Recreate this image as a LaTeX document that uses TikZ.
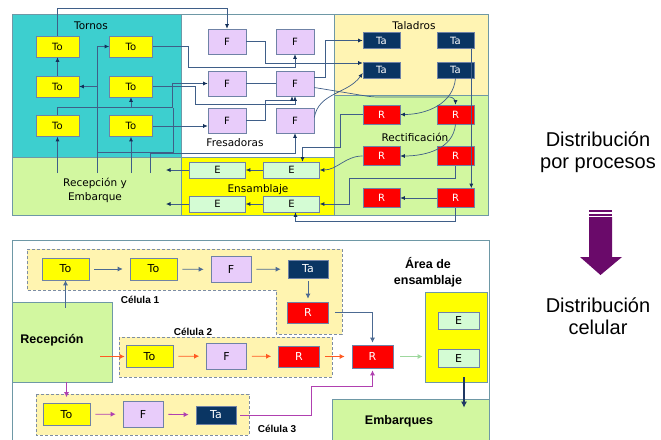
\documentclass[tikz,border=0pt]{standalone}
\usepackage{fontspec}
\setmainfont{DejaVu Sans}
\newfontfamily\arialfont{Liberation Sans}
\usetikzlibrary{arrows.meta,calc}
\definecolor{tornoc}{HTML}{3DCFCF}
\definecolor{recc}{HTML}{D2F7A0}
\definecolor{taladc}{HTML}{FFF4B3}
\definecolor{ensc}{HTML}{FFFF00}
\definecolor{toc}{HTML}{FFFF00}
\definecolor{fc}{HTML}{E8CCFA}
\definecolor{ec}{HTML}{D4FCD4}
\definecolor{tac}{HTML}{0A3563}
\definecolor{rc}{HTML}{FE0000}
\definecolor{zonec}{HTML}{6E98A6}
\definecolor{boxc}{HTML}{6F82A6}
\definecolor{wirec}{HTML}{3F5E88}
\definecolor{headc}{HTML}{13305A}
\definecolor{cellc}{HTML}{FFF4B0}
\definecolor{dashc}{HTML}{7D8DA3}
\definecolor{celaa}{HTML}{4C6A92}
\definecolor{celbb}{HTML}{FF5A22}
\definecolor{celcc}{HTML}{B040B0}
\definecolor{greenarr}{HTML}{9ED89E}
\definecolor{purpc}{HTML}{6A0A6A}
\definecolor{shipc}{HTML}{1F3864}
\tikzset{
  zone/.style={draw=zonec, line width=0.6pt},
  mach/.style={draw=boxc, line width=0.6pt, inner sep=0pt, font=\fontsize{10}{12}\selectfont},
  tobox/.style={mach, fill=toc, minimum width=43pt, minimum height=21pt},
  fbox/.style={mach, fill=fc, minimum width=38pt, minimum height=25pt},
  ebox/.style={mach, fill=ec, minimum width=56pt, minimum height=16pt},
  tabox/.style={mach, fill=tac, text=white, minimum width=37pt, minimum height=16pt},
  rbox/.style={mach, fill=rc, text=white, minimum width=37pt, minimum height=19pt},
  celto/.style={tobox, font=\fontsize{11}{13}\selectfont, minimum width=47pt, minimum height=22pt},
  celf/.style={fbox, font=\fontsize{11}{13}\selectfont, minimum width=40pt, minimum height=26pt},
  celta/.style={tabox, font=\fontsize{11}{13}\selectfont, minimum width=40pt, minimum height=18pt},
  celr/.style={rbox, font=\fontsize{11}{13}\selectfont, minimum width=41pt, minimum height=21pt},
  areabox/.style={ebox, font=\fontsize{11}{13}\selectfont, minimum width=41pt, minimum height=17pt},
  zonelabel/.style={font=\fontsize{10.5}{14}\selectfont, align=center},
  wire/.style={draw=wirec, line width=0.7pt, -{Latex[length=4.5pt,width=4pt,color=headc]}},
  bare/.style={draw=wirec, line width=0.7pt},
  cell/.style={fill=cellc, draw=dashc, line width=0.8pt, dash pattern=on 3pt off 2pt},
  boldlabel/.style={font=\arialfont\bfseries\fontsize{12.5}{16}\selectfont, align=center},
  celllabel/.style={font=\arialfont\bfseries\fontsize{10}{12}\selectfont},
  flow/.style={line width=0.8pt, shorten <=5pt, shorten >=7pt, -{Latex[length=5pt,width=5pt]}},
  bigtxt/.style={font=\arialfont\fontsize{20}{22}\selectfont, align=center, inner sep=0pt},
}
\begin{document}
\begin{tikzpicture}[x=1pt,y=-1pt]
\useasboundingbox (0,0) rectangle (661,439);
% distribucion por procesos: zonas
\fill[tornoc] (12,14) rectangle (181,157);
\fill[recc] (12,157) rectangle (181,215);
\fill[white] (181,14) rectangle (334,157);
\fill[ensc] (181,157) rectangle (334,215);
\fill[taladc] (334,14) rectangle (488,95);
\fill[recc] (334,95) rectangle (488,215);
\draw[zone] (12,14) rectangle (181,157);
\draw[zone] (12,157) rectangle (181,215);
\draw[zone] (181,14) rectangle (334,157);
\draw[zone] (181,157) rectangle (334,215);
\draw[zone] (334,14) rectangle (488,95);
\draw[zone] (334,95) rectangle (488,215);
\node[zonelabel] (tornos) at (91,26) {Tornos};
\node[zonelabel] (recemb) at (95,190) {Recepción y\\Embarque};
\node[zonelabel] (fresa) at (235,143) {Fresadoras};
\node[zonelabel] (ensam) at (258,190) {Ensamblaje};
\node[zonelabel] (talad) at (414,26) {Taladros};
\node[zonelabel] (rectif) at (415,137) {Rectificación};
% maquinas
\node[tobox] (To11) at (57.5,46.5) {To};
\node[tobox] (To12) at (131,46.5) {To};
\node[tobox] (To21) at (57.5,86.5) {To};
\node[tobox] (To22) at (131,86.5) {To};
\node[tobox] (To31) at (57.5,126) {To};
\node[tobox] (To32) at (131,126) {To};
\node[fbox] (F11) at (227,41.5) {F};
\node[fbox] (F12) at (295,41.5) {F};
\node[fbox] (F21) at (227,83.5) {F};
\node[fbox] (F22) at (295,83.5) {F};
\node[fbox] (F31) at (227,120.5) {F};
\node[fbox] (F32) at (295,120.5) {F};
\node[ebox] (E11) at (217.5,170) {E};
\node[ebox] (E12) at (291.5,170) {E};
\node[ebox] (E21) at (217.5,204) {E};
\node[ebox] (E22) at (291.5,204) {E};
\node[tabox] (Ta11) at (381.5,40.5) {Ta};
\node[tabox] (Ta12) at (455.5,40.5) {Ta};
\node[tabox] (Ta21) at (381.5,70) {Ta};
\node[tabox] (Ta22) at (455.5,70) {Ta};
\node[rbox] (R11) at (381.5,114.5) {R};
\node[rbox] (R12) at (455.5,114.5) {R};
\node[rbox] (R21) at (381.5,156) {R};
\node[rbox] (R22) at (455.5,156) {R};
\node[rbox] (R31) at (381.5,198) {R};
\node[rbox] (R32) at (455.5,198) {R};
\coordinate (tapA) at (57.5,173);
\coordinate (tapB) at (97,173);
\coordinate (tapC) at (131,173);
\coordinate (tapD) at (150,173);
\coordinate (outA) at (166,170);
\coordinate (outB) at (166,204);
% recorridos
\draw[wire] (tapA) -- (To31.south);
\draw[wire] (To21.north) -- (To11.south);
\draw[wire] (To11.north) -- ++(0,-27) -| (F11.north);
\draw[wire] (tapB) |- (To12.west);
\draw[wire] (tapB |- To21.east) -- (To21.east);
\draw[wire] (tapC) -- (To32.south);
\draw[wire] (To31.north) -- ++(0,-8) -| (To22.south);
\draw[wire] ([yshift=8pt]To31.north) -| ($(F21.west)+(-35,0)$) -- (F21.west);
\draw[bare] (tapB |- 0,152) -| (173,107.5);
\draw[wire] (tapD) -- ++(0,-20) -| (F32.south);
\draw[wire] (To32.east) -- (To32.east -| F31.west);
\draw[wire] (To12.east) -| (188,67) -| (F12.south);
\draw[wire] (F11.east) -| (265,63) -- ([yshift=7pt]Ta21.west);
\draw[wire] (To22.east) -| (195,104) -| (F22.south);
\draw[wire] (F31.east) -| (265,100) -| ([xshift=-3pt]F22.south);
\draw[bare] (F21.east) -- (F22.west);
\draw[wire] ([yshift=6pt]F22.east) -- ++(11,0) |- (Ta11.west);
\draw[wire, rounded corners=6pt] ([yshift=-4pt]F22.east) -- (372,97) -| (R12.north);
\draw[wire] ([yshift=3pt]F32.east) to[out=80,in=235] ([yshift=-3pt]Ta21.west);
\draw[wire] (Ta22.south) to[out=-95,in=0] (R11.east);
\draw[wire] (R12.south) to[out=-95,in=0] (R21.east);
\draw[wire] (R11.west) -| (340,147) -| ([xshift=11pt]E12.north);
\draw[wire] (R21.west) to[out=180,in=0] (E12.east);
\draw[wire] (R22.south) |- (349,178) |- (E22.east);
\draw[wire] (R32.west) -- (R31.east);
\draw[wire] ([xshift=-3pt]Ta12.south east) -- ([xshift=-3pt]R32.north east);
\draw[wire] (R32.south) -- ++(0,14) -| ([xshift=4pt]E22.south);
\draw[wire] (E12.west) -- (E11.east);
\draw[wire] (E22.west) -- (E21.east);
\draw[wire] (E11.west) -- (outA);
\draw[wire] (E21.west) -- (outB);
% distribucion celular
\draw[zone] (12,240) rectangle (489,445);
\filldraw[cell] (27,249) -- (342,249) -- (342,334) -- (276,334) -- (276,290) -- (27,290) -- cycle;
\filldraw[cell] (119,337) rectangle (332,377);
\filldraw[cell] (36,394) rectangle (249,435);
\node[draw=zonec, fill=recc, line width=0.6pt, minimum width=100pt, minimum height=80pt, inner sep=0pt] (recep) at (62,342) {};
\node[boldlabel] (receptxt) at (52,340) {Recepción};
\node[draw=zonec, fill=recc, line width=0.6pt, minimum width=157pt, minimum height=46pt, inner sep=0pt] (emb) at (410.5,422) {};
\node[boldlabel] (embtxt) at (399,421) {Embarques};
\node[draw=zonec, fill=ensc, line width=0.6pt, minimum width=62pt, minimum height=90pt, inner sep=0pt] (area) at (456,337) {};
\node[boldlabel] (areatxt) at (428,272) {Área de\\ensamblaje};
\node[celllabel] (cel1) at (140,300) {Célula 1};
\node[celllabel] (cel2) at (193,332) {Célula 2};
\node[celllabel] (cel3) at (277,429) {Célula 3};
\node[celto] (C1to1) at (65.5,269) {To};
\node[celto] (C1to2) at (153.5,269) {To};
\node[celf] (C1f) at (231,269.5) {F};
\node[celta] (C1ta) at (308,269) {Ta};
\node[celr] (C1r) at (308,312.5) {R};
\node[celto] (C2to) at (149.5,356.5) {To};
\node[celf] (C2f) at (226.5,356) {F};
\node[celr] (C2r) at (299,356.5) {R};
\node[celr, minimum height=23pt] (bigR) at (372.5,356.5) {R};
\node[celto] (C3to) at (66.5,414.5) {To};
\node[celf] (C3f) at (143,414) {F};
\node[celta] (C3ta) at (216,415) {Ta};
\node[areabox] (A1) at (458.5,320.5) {E};
\node[areabox, minimum height=18pt] (A2) at (458.5,358) {E};
\draw[flow, draw=celaa] (C1to1) -- (C1to2);
\draw[flow, draw=celaa] (C1to2) -- (C1f);
\draw[flow, draw=celaa] (C1f) -- (C1ta);
\draw[flow, draw=celaa, shorten <=3pt, shorten >=3pt] (C1ta) -- (C1r);
\draw[flow, draw=celaa, shorten <=0pt, shorten >=0pt] ($(recep.north -| C1to1.south)+(0,6)$) -- (C1to1.south);
\draw[flow, draw=celaa, shorten <=6pt, shorten >=2pt] (C1r.east) -| (bigR.north);
\draw[flow, draw=celbb, shorten <=0pt, shorten >=1pt] ($(recep.east |- C2to.west)+(-12,0)$) -- (C2to.west);
\draw[flow, draw=celbb] (C2to) -- (C2f);
\draw[flow, draw=celbb] (C2f) -- (C2r);
\draw[flow, draw=celbb] (C2r) -- (bigR);
\draw[flow, draw=celcc, shorten <=0pt, shorten >=6pt] (recep.south -| C3to.north) -- (C3to.north);
\draw[flow, draw=celcc] (C3to) -- (C3f);
\draw[flow, draw=celcc] (C3f) -- (C3ta);
\draw[flow, draw=celcc, shorten <=4pt, shorten >=2pt] (C3ta.east) -- ++(75,0) |- ($(bigR.south)+(0,18)$) -- (bigR.south);
\draw[flow, draw=greenarr, line width=1.6pt, shorten <=7pt, shorten >=2pt] (bigR.east) -- (bigR.east -| area.west);
\draw[draw=shipc, line width=2pt, -{Latex[length=6pt,width=6pt]}] ($(area.south)+(8,-5)$) -- ($(area.south |- emb.north)+(8,9)$);
% flecha entre las dos distribuciones
\node[bigtxt] (proc) at (598,152) {Distribución\\por procesos};
\fill[purpc] (589,210) rectangle (612,212.3);
\fill[purpc] (589,213.5) rectangle (612,215.8);
\fill[purpc] (589,217) -- (612,217) -- (612,257) -- (622,257) -- (600.5,275) -- (580,257) -- (589,257) -- cycle;
\node[bigtxt] (celu) at (598,316) {Distribución\\celular};
\end{tikzpicture}
\end{document}
